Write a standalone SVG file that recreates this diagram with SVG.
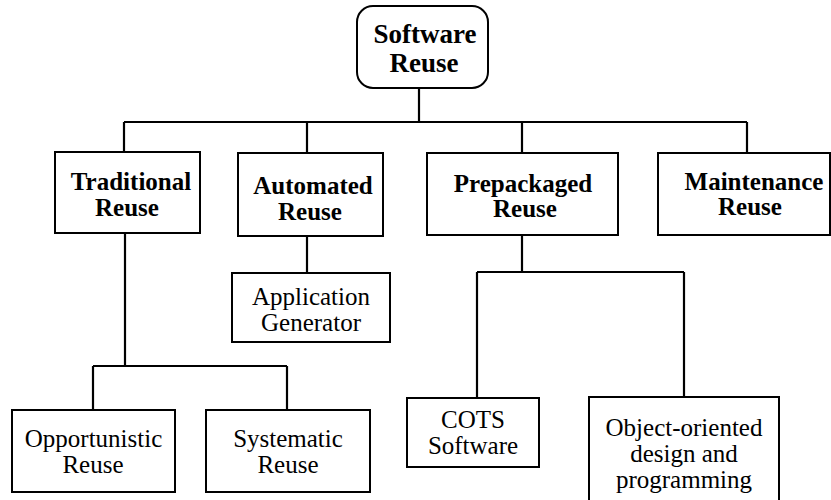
<svg xmlns="http://www.w3.org/2000/svg" width="831" height="500" viewBox="0 0 831 500" font-family="Liberation Serif, Times New Roman, serif">
<style>
.box{fill:#fff;stroke:#000;stroke-width:2}
.ln{fill:none;stroke:#000;stroke-width:2.2}
.b{font-family:Liberation Serif, serif;font-weight:bold;font-size:25px;text-anchor:middle}
.r{font-family:Liberation Serif, serif;font-size:25px;text-anchor:middle}
.root{font-family:Liberation Serif, serif;font-weight:bold;font-size:27px;text-anchor:middle}
</style>
<rect width="831" height="500" fill="#fff"/>
<g id="connectors">
<path class="ln" d="M419,88 V122 M124,122 H747 M124,122 V152 M307,122 V153 M522,122 V153 M747,122 V153"/>
<path class="ln" d="M125,233 V366 M93,366 H287 M93,366 V410 M287,366 V410"/>
<path class="ln" d="M307,236 V273"/>
<path class="ln" d="M522,235 V272 M477,272 H684 M477,272 V398 M684,272 V397"/>
</g>
<g id="software-reuse">
<rect class="box" x="357" y="6" width="131" height="82" rx="16"/>
<text class="root" x="425" y="43">Software</text>
<text class="root" x="424" y="72">Reuse</text>
</g>
<g id="traditional-reuse">
<rect class="box" x="55" y="152" width="145" height="81"/>
<text class="b" x="131" y="190">Traditional</text>
<text class="b" x="127" y="216">Reuse</text>
</g>
<g id="automated-reuse">
<rect class="box" x="238" y="153" width="145" height="83"/>
<text class="b" x="313" y="194">Automated</text>
<text class="b" x="310" y="220">Reuse</text>
</g>
<g id="prepackaged-reuse">
<rect class="box" x="427" y="153" width="191" height="82"/>
<text class="b" x="523" y="192">Prepackaged</text>
<text class="b" x="525" y="217">Reuse</text>
</g>
<g id="maintenance-reuse">
<rect class="box" x="658" y="153" width="172" height="82"/>
<text class="b" x="754" y="190">Maintenance</text>
<text class="b" x="750" y="215">Reuse</text>
</g>
<g id="application-generator">
<rect class="box" x="232" y="273" width="158" height="69"/>
<text class="r" x="311" y="305">Application</text>
<text class="r" x="311" y="331">Generator</text>
</g>
<g id="opportunistic-reuse">
<rect class="box" x="12" y="410" width="163" height="82"/>
<text class="r" x="93.5" y="447">Opportunistic</text>
<text class="r" x="93" y="473">Reuse</text>
</g>
<g id="systematic-reuse">
<rect class="box" x="206" y="410" width="164" height="82"/>
<text class="r" x="288" y="447">Systematic</text>
<text class="r" x="288" y="473">Reuse</text>
</g>
<g id="cots-software">
<rect class="box" x="407" y="398" width="132" height="69"/>
<text class="r" x="473" y="428">COTS</text>
<text class="r" x="473" y="454">Software</text>
</g>
<g id="object-oriented">
<rect class="box" x="589" y="397" width="190" height="112"/>
<text class="r" x="684" y="436">Object-oriented</text>
<text class="r" x="684" y="462">design and</text>
<text class="r" x="684" y="488">programming</text>
</g>
</svg>
